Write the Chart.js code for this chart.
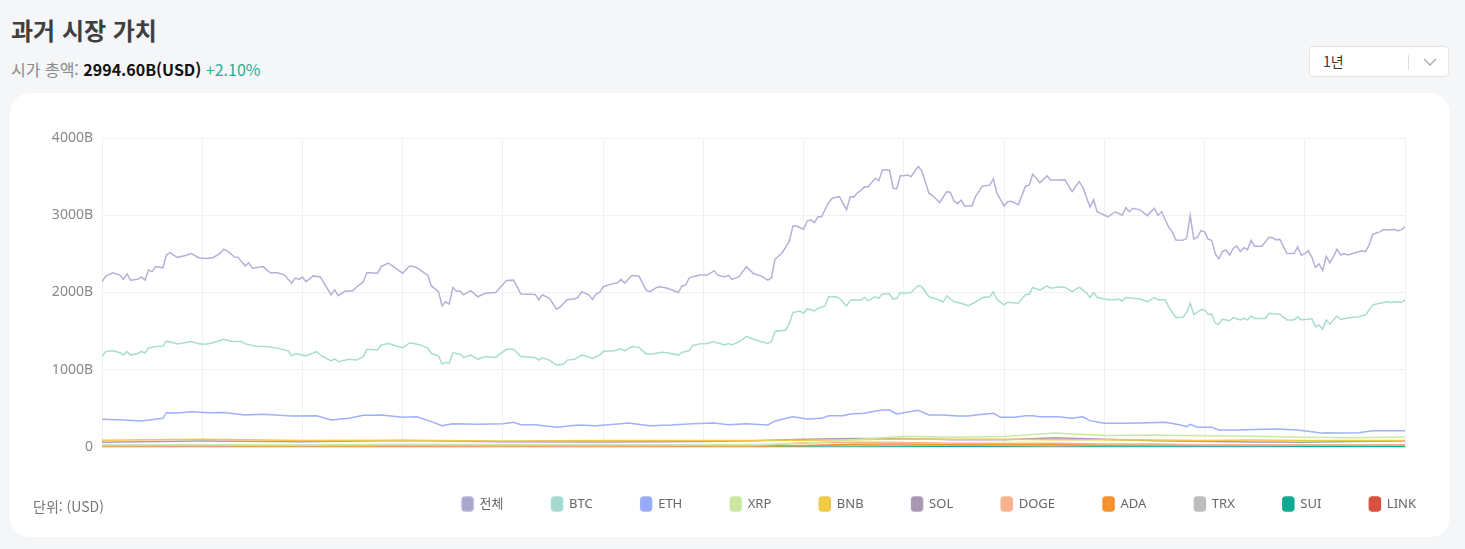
<!DOCTYPE html>
<html lang="ko">
<head>
<meta charset="utf-8">
<title>과거 시장 가치</title>
<script src="https://cdn.jsdelivr.net/npm/chart.js@4.4.1/dist/chart.umd.min.js"></script>
<style>
html,body{margin:0;padding:0;}
body{width:1465px;height:549px;background:#f5f6f8;position:relative;overflow:hidden;font-family:"Noto Sans CJK KR","Noto Sans",sans-serif;}
.title{position:absolute;left:11px;top:14px;font-size:24px;line-height:32px;font-weight:700;color:#3f3f3f;}
.sub{position:absolute;left:11px;top:58px;font-size:16px;line-height:22px;color:#8a8a8a;}
.sub b{color:#111;font-weight:700;}
.sub .up{color:#25b19a;}
.select{position:absolute;left:1309px;top:46px;width:138px;height:29px;border:1px solid #e3e3e3;border-radius:4px;background:#fff;}
.select span{position:absolute;left:13px;top:4px;font-size:14px;line-height:20px;color:#333;}
.select i{position:absolute;left:98px;top:8px;width:1px;height:15px;background:#ddd;}
.select svg{position:absolute;left:112px;top:9px;}
.card{position:absolute;left:10px;top:93px;width:1440px;height:444px;background:#fff;border-radius:20px;}
#wrap{position:absolute;left:0;top:93px;width:1465px;height:444px;}
.unit{position:absolute;left:33px;top:496px;font-size:14px;line-height:20px;color:#777;}
</style>
</head>
<body>
<div class="title">과거 시장 가치</div>
<div class="sub">시가 총액: <b>2994.60B(USD)</b> <span class="up">+2.10%</span></div>
<div class="select"><span>1년</span><i></i><svg width="16" height="12" viewBox="0 0 16 12"><polyline points="2,3 8,9 14,3" fill="none" stroke="#aaa" stroke-width="1.4"/></svg></div>
<div class="card"></div>
<div id="wrap"><canvas id="histChart" width="1465" height="444"></canvas></div>
<div class="unit">단위: (USD)</div>
<script>
// day index 0 = 2024-05-02, 364 = 2025-05-01
var totalDays = [0,1,3,5,6,7,8,10,11,12,13,14,15,17,18,19,21,23,25,27,29,31,33,34,35,37,38,40,41,42,45,47,49,51,53,54,55,56,57,59,61,
	64,65,66,68,70,71,73,74,77,78,80,82,84,86,88,90,91,92,94,95,96,97,98,99,100,101,103,105,107,110,111,113,115,117,
	121,122,123,125,127,128,130,132,133,134,136,137,138,139,140,142,144,145,146,148,150,152,153,155,156,158,161,162,163,164,165,167,169,171,172,174,175,176,178,180,182,184,
	186,187,188,190,192,193,194,196,197,198,199,200,201,203,204,206,208,209,210,211,212,213,214,216,217,218,220,221,222,223,224,225,226,228,229,231,232,234,236,237,238,239,240,241,243,244,246,248,249,250,252,253,254,256,258,259,260,261,262,264,265,267,269,271,273,
	274,276,277,278,281,282,283,285,286,287,288,290,292,294,295,296,298,299,300,302,303,304,305,306,307,308,309,310,311,312,313,314,315,316,317,318,319,320,321,322,324,326,327,328,329,331,333,334,335,336,337,338,339,340,341,342,343,344,345,346,347,348,350,352,353,354,355,357,358,359,361,362,363,364];
var totalValues = [2140,2210,2255,2225,2170,2240,2160,2170,2200,2160,2290,2270,2335,2320,2485,2515,2455,2475,2505,2450,2440,2450,2505,2560,2540,2460,2455,2345,2385,2315,2335,2255,2255,2225,2120,2190,2170,2200,2140,2215,2200,
	1970,2035,1960,2020,2020,2065,2140,2260,2250,2335,2380,2315,2250,2345,2320,2255,2225,2085,2010,1830,1880,1850,2065,2020,2020,1970,2025,1945,1990,2000,2055,2155,2160,1980,
	1975,1905,1970,1925,1785,1815,1910,1915,1940,2010,1970,1910,1980,2000,2075,2105,2125,2170,2120,2220,2215,2030,2010,2065,2075,2055,2000,2085,2095,2185,2205,2225,2225,2280,2225,2200,2225,2170,2205,2335,2245,2215,
	2160,2190,2430,2515,2660,2860,2860,2820,2925,2940,2905,2980,2980,3165,3220,3240,3070,3240,3235,3290,3320,3370,3365,3480,3445,3585,3585,3350,3340,3510,3510,3520,3500,3630,3575,3285,3255,3165,3305,3295,3185,3150,3195,3120,3120,3240,3380,3390,3470,3285,3120,3175,3180,3135,3380,3390,3530,3480,3420,3510,3455,3455,3460,3305,3435,
	3360,3105,3200,3045,2980,3010,3045,3000,3100,3045,3090,3070,2995,3090,3000,3045,2845,2785,2680,2675,2705,2995,2690,2715,2800,2785,2690,2675,2500,2435,2530,2550,2485,2570,2600,2530,2580,2555,2675,2600,2600,2715,2710,2680,2690,2505,2505,2590,2485,2500,2540,2455,2325,2370,2285,2470,2385,2465,2560,2485,2505,2485,2515,2540,2530,2620,2755,2785,2815,2810,2815,2800,2810,2850];

var btcDays = [0,1,3,5,6,7,8,10,11,12,13,15,17,18,20,21,23,25,27,29,31,34,36,39,40,43,46,49,52,53,54,55,57,60,61,
	64,65,66,69,71,73,74,77,78,80,82,84,86,89,91,92,94,95,96,97,98,100,101,103,105,107,110,111,113,115,117,
	121,122,123,125,127,129,130,132,134,135,137,139,140,143,145,146,148,150,152,154,156,158,161,162,164,165,167,169,171,172,174,175,176,178,180,182,184,
	186,187,188,191,192,193,195,196,197,199,200,202,203,205,206,208,209,210,212,213,214,216,217,218,220,221,222,223,224,226,228,229,231,233,235,236,238,240,242,244,246,248,249,250,252,253,256,258,259,260,262,264,265,268,269,271,273,
	275,276,277,278,281,283,284,285,286,288,290,292,294,295,297,298,300,302,303,304,305,307,308,309,310,311,312,313,315,316,318,319,320,321,322,325,326,329,331,333,334,335,338,339,340,341,342,343,345,346,348,351,353,355,357,359,360,361,363,364];
var btcValues = [1170,1235,1245,1220,1190,1235,1190,1210,1235,1220,1280,1300,1305,1370,1350,1335,1350,1365,1335,1330,1350,1395,1370,1365,1335,1305,1300,1280,1245,1180,1210,1200,1180,1235,1190,
	1115,1140,1105,1135,1125,1170,1265,1255,1320,1340,1310,1285,1350,1320,1280,1210,1180,1075,1095,1085,1220,1205,1160,1190,1135,1170,1160,1200,1265,1265,1170,
	1160,1125,1155,1125,1060,1075,1125,1135,1190,1180,1145,1190,1235,1245,1270,1245,1300,1290,1205,1205,1225,1220,1190,1225,1245,1315,1335,1340,1365,1345,1320,1340,1320,1365,1430,1395,1365,
	1340,1365,1495,1515,1600,1740,1760,1730,1790,1760,1795,1825,1945,1945,1925,1825,1895,1905,1900,1935,1895,1945,1925,1980,1980,1915,1925,2000,1990,2000,2090,2075,1945,1915,1880,1955,1880,1860,1830,1875,1935,1945,2010,1910,1840,1875,1860,1975,1975,2065,2030,2085,2055,2075,2065,2010,2070,
	1995,1935,2000,1935,1905,1905,1915,1890,1935,1925,1915,1880,1935,1905,1905,1815,1675,1680,1740,1860,1715,1780,1775,1720,1720,1600,1590,1655,1635,1675,1645,1665,1645,1695,1665,1665,1730,1720,1645,1645,1685,1645,1660,1555,1580,1525,1645,1590,1695,1650,1670,1685,1710,1840,1860,1880,1870,1880,1870,1905];

var ethDays = [0,6,11,17,18,21,25,30,34,40,45,53,60,64,69,73,78,84,88,92,95,98,105,112,115,117,121,127,133,138,145,147,153,159,165,171,175,180,186,188,193,197,201,203,207,209,213,215,218,220,222,228,231,235,239,242,244,247,249,251,255,258,260,262,267,271,274,276,280,285,290,297,301,303,304,306,310,312,317,322,328,334,338,341,342,345,351,355,359,364];
var ethValues = [358,350,337,371,444,440,457,444,448,414,423,401,405,350,371,410,414,384,392,328,276,302,293,302,319,289,289,255,285,276,302,310,276,285,302,310,289,302,285,337,392,362,371,405,405,427,436,457,479,479,427,474,414,414,401,401,414,427,436,384,384,405,405,392,392,371,392,341,306,306,310,319,289,263,293,255,255,220,220,228,233,220,198,177,185,180,185,211,211,211];

// smaller coins, sampled about every two weeks
var smallDays = [0,28,56,84,112,140,168,182,196,210,224,238,252,266,280,294,308,322,336,350,364];
var xrpValues  = [29,29,27,34,33,33,30,29,45,95,140,125,135,180,150,155,145,140,125,120,130];
var bnbValues  = [88,100,85,87,78,85,85,85,88,95,105,100,100,95,95,90,85,90,85,85,85];
var solValues  = [63,77,67,83,68,66,72,80,100,110,110,95,95,120,100,80,72,65,62,70,78];
var dogeValues = [22,23,18,19,15,15,18,20,55,60,58,48,50,50,38,38,30,26,25,25,27];
var adaValues  = [16,16,13,14,12,12,12,12,19,36,38,30,34,33,27,28,28,26,24,22,25];
var trxValues  = [10,10,11,12,13,13,14,14,15,17,24,22,22,21,21,21,21,21,22,23,23];
var suiValues  = [1.3,1.9,2.2,2,1.5,3.7,6,5.5,10,11,12,11,14,15,11,10,8,8,7,7,11];
var linkValues = [9,11,8,8,6,6,7,7,8,12,17,14,14,15,12,11,10,9,8,8,9];

var seriesNames = ["전체","BTC","ETH","XRP","BNB","SOL","DOGE","ADA","TRX","SUI","LINK"];
var lineColors = ["#b4b1d9","#a8ddd2","#9fb1f8","#cce8a8","#efc94c","#ad9cb7","#f8b48f","#f7922e","#bdbdbd","#12a98f","#da5140"];
var boxColors  = ["#a7a8cc","#a5d9d0","#97a9f7","#c9e6a2","#f0cb4a","#a997b2","#f8b28d","#f6922f","#bdbdbd","#11a98f","#da5140"];

var startDate = Date.UTC(2024, 4, 2);
function dayLabel(d){
	var t = new Date(startDate + d * 86400000);
	return t.toISOString().slice(0, 10);
}
function pts(days, vals){
	var out = [];
	for (var i=0; i<days.length; i++){
		out.push({x: days[i], y: vals[i]});
	}
	return out;
}

var seriesData = [
	pts(totalDays, totalValues),
	pts(btcDays, btcValues),
	pts(ethDays, ethValues),
	pts(smallDays, xrpValues),
	pts(smallDays, bnbValues),
	pts(smallDays, solValues),
	pts(smallDays, dogeValues),
	pts(smallDays, adaValues),
	pts(smallDays, trxValues),
	pts(smallDays, suiValues),
	pts(smallDays, linkValues)
];

var datasets = [];
for (var i=0; i<seriesNames.length; i++){
	datasets.push({
		label: seriesNames[i],
		data: seriesData[i],
		borderColor: lineColors[i],
		backgroundColor: boxColors[i],
		borderWidth: 1.5,
		pointRadius: 0,
		tension: 0,
		fill: false
	});
}

var fontFamily = "'Noto Sans', 'Noto Sans CJK KR', sans-serif";
var gridColor = "#f1f1f4";

new Chart(document.getElementById("histChart"), {
	type: "line",
	data: {datasets: datasets},
	options: {
		responsive: false,
		animation: false,
		events: [],
		layout: {padding: {top: 45, right: 1, bottom: 16, left: 0}},
		plugins: {
			legend: {
				display: true,
				position: "bottom",
				align: "end",
				labels: {
					boxWidth: 11,
					boxHeight: 14,
					useBorderRadius: true,
					borderRadius: 3,
					padding: 48,
					color: "#666",
					font: {size: 13, family: fontFamily}
				}
			},
			tooltip: {enabled: false}
		},
		scales: {
			x: {
				type: "linear",
				min: 0,
				max: 364,
				grid: {color: gridColor, drawTicks: false},
				border: {color: "#e2e2e6"},
				ticks: {
					stepSize: 28,
					autoSkip: false,
					maxRotation: 0,
					padding: 7,
					color: "#8a8a8a",
					font: {size: 14, family: fontFamily},
					callback: function(v){ return dayLabel(v); }
				},
				afterFit: function(s){ s.height = 2; }
			},
			y: {
				min: 0,
				max: 4000,
				grid: {color: gridColor, drawTicks: false},
				border: {display: false},
				ticks: {
					stepSize: 1000,
					padding: 9,
					color: "#8a8a8a",
					font: {size: 14, family: fontFamily},
					callback: function(v){ return v === 0 ? "0" : v + "B"; }
				},
				afterFit: function(s){ s.width = 102; }
			},
			y2: {
				position: "right",
				display: true,
				grid: {display: false},
				border: {display: false},
				ticks: {display: false},
				afterFit: function(s){ s.width = 59; }
			}
		}
	}
});
</script>
</body>
</html>
